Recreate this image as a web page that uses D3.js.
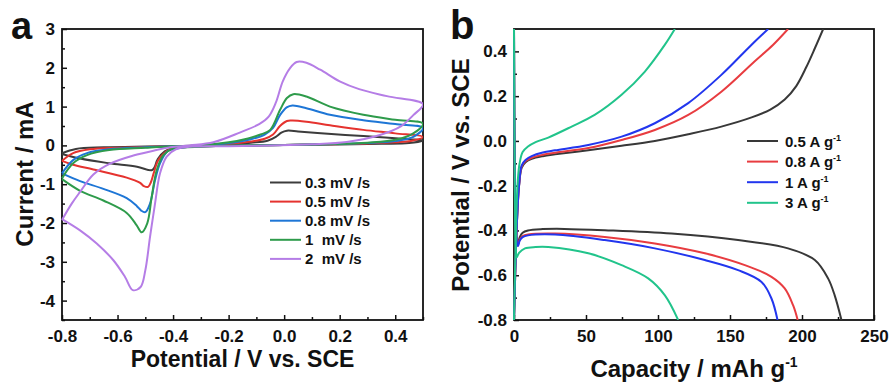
<!DOCTYPE html>
<html>
<head>
<meta charset="utf-8">
<script src="https://cdn.jsdelivr.net/npm/d3@7"></script>
<style>
body { margin: 0; background: #fff; }
svg text { font-family: "Liberation Sans", Arial, sans-serif; font-weight: bold; fill: #111; }
</style>
</head>
<body>
<div id="chart"></div>
<script>
// ---- panel a : CV loops, [potential V, current mA], forward sweep then reverse ----
var scanRates = ["0.3 mV /s", "0.5 mV /s", "0.8 mV /s", "1  mV /s", "2  mV /s"];
var cvColors = ["#3c3c3c", "#e5332f", "#1e76d6", "#2e9b4b", "#b57de6"];

var cv03 = [[-0.8,-0.20],[-0.75,-0.09],[-0.65,-0.05],[-0.5,-0.03],[-0.4,-0.02],[-0.3,0.0],[-0.2,0.03],[-0.12,0.07],[-0.06,0.12],[-0.03,0.22],[-0.01,0.33],[0.01,0.38],[0.05,0.36],[0.12,0.32],[0.22,0.27],[0.35,0.21],[0.45,0.16],[0.5,0.13],
  [0.45,0.06],[0.35,0.04],[0.2,0.02],[0.0,0.01],[-0.2,-0.01],[-0.35,-0.03],[-0.4,-0.07],[-0.43,-0.15],[-0.455,-0.35],[-0.468,-0.58],[-0.477,-0.64],[-0.53,-0.55],[-0.63,-0.46],[-0.735,-0.34],[-0.8,-0.22]];
var cv05 = [[-0.8,-0.40],[-0.76,-0.2],[-0.7,-0.1],[-0.6,-0.06],[-0.5,-0.04],[-0.4,-0.02],[-0.3,0.0],[-0.2,0.04],[-0.12,0.1],[-0.07,0.17],[-0.04,0.28],[-0.015,0.5],[0.01,0.63],[0.03,0.64],[0.08,0.61],[0.165,0.52],[0.285,0.40],[0.4,0.31],[0.5,0.22],
  [0.46,0.12],[0.4,0.08],[0.3,0.05],[0.15,0.03],[0.0,0.01],[-0.2,-0.01],[-0.35,-0.04],[-0.41,-0.1],[-0.435,-0.22],[-0.455,-0.40],[-0.47,-0.72],[-0.48,-0.95],[-0.49,-1.07],[-0.505,-1.05],[-0.52,-0.96],[-0.567,-0.83],[-0.687,-0.62],[-0.76,-0.5],[-0.8,-0.40]];
var cv08 = [[-0.8,-0.72],[-0.76,-0.38],[-0.71,-0.2],[-0.63,-0.1],[-0.5,-0.05],[-0.4,-0.02],[-0.3,0.0],[-0.2,0.06],[-0.12,0.16],[-0.07,0.28],[-0.04,0.45],[-0.015,0.78],[0.009,0.98],[0.03,1.03],[0.08,0.96],[0.165,0.79],[0.285,0.65],[0.4,0.55],[0.5,0.45],
  [0.465,0.22],[0.4,0.11],[0.3,0.06],[0.15,0.03],[0.0,0.01],[-0.2,-0.01],[-0.35,-0.04],[-0.4,-0.1],[-0.42,-0.15],[-0.447,-0.46],[-0.465,-0.9],[-0.483,-1.5],[-0.5,-1.72],[-0.515,-1.68],[-0.531,-1.56],[-0.567,-1.36],[-0.651,-1.12],[-0.735,-0.92],[-0.8,-0.72]];
var cv1 = [[-0.8,-0.85],[-0.76,-0.46],[-0.71,-0.25],[-0.63,-0.12],[-0.5,-0.06],[-0.4,-0.02],[-0.3,0.0],[-0.2,0.08],[-0.13,0.18],[-0.085,0.28],[-0.05,0.4],[-0.015,0.91],[0.01,1.22],[0.033,1.32],[0.08,1.26],[0.165,1.0],[0.285,0.79],[0.4,0.66],[0.5,0.56],
  [0.465,0.31],[0.405,0.15],[0.3,0.07],[0.15,0.03],[0.0,0.01],[-0.2,-0.01],[-0.35,-0.05],[-0.4,-0.08],[-0.435,-0.25],[-0.459,-0.64],[-0.477,-1.33],[-0.493,-2.01],[-0.513,-2.24],[-0.531,-2.06],[-0.567,-1.74],[-0.651,-1.42],[-0.735,-1.17],[-0.8,-0.87]];
var cv2 = [[-0.8,-1.92],[-0.765,-1.5],[-0.735,-1.2],[-0.687,-0.75],[-0.627,-0.47],[-0.543,-0.26],[-0.46,-0.12],[-0.41,-0.05],[-0.34,0.0],[-0.255,0.08],[-0.16,0.33],[-0.09,0.55],[-0.055,0.75],[-0.03,1.1],[-0.005,1.65],[0.02,1.98],[0.045,2.15],[0.08,2.13],[0.13,1.95],[0.2,1.65],[0.27,1.45],[0.37,1.27],[0.5,1.06],
  [0.465,0.78],[0.42,0.49],[0.345,0.27],[0.225,0.09],[0.1,0.03],[-0.05,0.0],[-0.2,-0.02],[-0.33,-0.03],[-0.39,-0.10],[-0.423,-0.29],[-0.447,-0.72],[-0.465,-1.5],[-0.483,-2.36],[-0.5,-3.22],[-0.517,-3.65],[-0.545,-3.73],[-0.573,-3.39],[-0.615,-2.96],[-0.675,-2.53],[-0.735,-2.19],[-0.8,-1.9]];

var cvTicksX = [-0.8, -0.6, -0.4, -0.2, 0, 0.2, 0.4];
var cvTicksY = [-4, -3, -2, -1, 0, 1, 2, 3];

// ---- panel b : charge / discharge, [capacity mAh/g, potential V] ----
var currentRates = ["0.5 A g", "0.8 A g", "1 A g", "3 A g"];
var gcdColors = ["#383838", "#e83c40", "#2236ee", "#21c48b"];

var charge05 = [[0,-0.8],[1.5,-0.45],[2.5,-0.3],[3.5,-0.2],[5.3,-0.12],[8,-0.095],[12.3,-0.08],[20,-0.068],[28.5,-0.06],[51.6,-0.042],[74.7,-0.022],[97.8,0.0],[121,0.03],[144,0.064],[165,0.105],[178,0.14],[188,0.185],[196,0.245],[203,0.33],[209,0.415],[214.7,0.5]];
var charge08 = [[0,-0.8],[1.5,-0.45],[2.5,-0.3],[3.5,-0.2],[5.3,-0.115],[8,-0.09],[12.3,-0.075],[20,-0.062],[28.5,-0.053],[51.6,-0.032],[74.7,0.004],[97.8,0.049],[121,0.116],[144,0.22],[167,0.355],[180,0.43],[190.3,0.5]];
var charge1 = [[0,-0.8],[1.5,-0.45],[2.5,-0.3],[3.5,-0.2],[5.3,-0.11],[8,-0.085],[12.3,-0.068],[20,-0.052],[28.5,-0.042],[51.6,-0.018],[74.7,0.019],[97.8,0.079],[121,0.169],[144,0.295],[165,0.43],[176.5,0.5]];
var charge3 = [[0,-0.8],[1,-0.5],[1.8,-0.3],[2.6,-0.18],[3.9,-0.1],[6,-0.05],[9.7,-0.025],[15,-0.005],[23.8,0.015],[40,0.064],[56,0.116],[74.7,0.206],[90.9,0.31],[104.8,0.43],[111.7,0.5]];

var discharge05 = [[0,0.5],[0.6,-0.2],[1.5,-0.42],[2.5,-0.465],[4,-0.43],[6,-0.41],[9.7,-0.40],[20,-0.394],[35,-0.393],[63,-0.399],[109.4,-0.414],[155.6,-0.443],[190.3,-0.48],[208.9,-0.532],[218.1,-0.614],[222.7,-0.69],[227.4,-0.8]];
var discharge08 = [[0,0.5],[0.6,-0.2],[1.5,-0.43],[2.6,-0.468],[4,-0.44],[6,-0.425],[9.7,-0.418],[28.5,-0.414],[63,-0.429],[97.8,-0.458],[132.5,-0.502],[160.3,-0.555],[178.8,-0.607],[188,-0.659],[193.8,-0.734],[197,-0.8]];
var discharge1 = [[0,0.5],[0.6,-0.2],[1.5,-0.43],[2.8,-0.47],[4,-0.445],[6,-0.43],[9.7,-0.422],[28.5,-0.418],[63,-0.443],[97.8,-0.48],[132.5,-0.532],[155.6,-0.577],[171.9,-0.63],[178.8,-0.704],[183,-0.8]];
var discharge3 = [[0,0.5],[0.6,-0.25],[1.2,-0.48],[1.9,-0.52],[3.5,-0.5],[7.6,-0.48],[15,-0.474],[23.8,-0.474],[51.6,-0.502],[74.7,-0.555],[93.2,-0.614],[104.8,-0.69],[114,-0.8]];

var gcdTicksX = [0, 50, 100, 150, 200, 250];
var gcdTicksY = [-0.8, -0.6, -0.4, -0.2, 0, 0.2, 0.4];

var svg = d3.select("#chart").append("svg")
	.attr("width", 893)
	.attr("height", 387);

var plotH = 291;

function styleAxis(g, size) {
	g.select(".domain").remove();
	g.attr("font-size", size).attr("font-family", null);
	g.selectAll("line").attr("stroke", "#111").attr("stroke-width", 1.5);
}

function drawAxes(g, x, y, w, xTicks, yTicks, xMinor, yMinor, xFmt, yFmt) {
	g.append("g").attr("transform", "translate(0," + plotH + ")")
		.call(d3.axisBottom(x).tickValues(xMinor).tickSize(-3).tickFormat(""))
		.call(styleAxis, 17);
	g.append("g").attr("transform", "translate(0," + plotH + ")")
		.call(d3.axisBottom(x).tickValues(xTicks).tickSize(-5).tickPadding(10).tickFormat(xFmt))
		.call(styleAxis, 17);
	g.append("g")
		.call(d3.axisLeft(y).tickValues(yMinor).tickSize(-3).tickFormat(""))
		.call(styleAxis, 17);
	g.append("g")
		.call(d3.axisLeft(y).tickValues(yTicks).tickSize(-5).tickPadding(7).tickFormat(yFmt))
		.call(styleAxis, 17);

	g.append("rect")
		.attr("width", w).attr("height", plotH)
		.attr("fill", "none").attr("stroke", "#111").attr("stroke-width", 1.8);
}

// ================= panel a =================
var aW = 361;
var ga = svg.append("g").attr("transform", "translate(62,29)");
var xA = d3.scaleLinear().domain([-0.8, 0.5]).range([0, aW]);
var yA = d3.scaleLinear().domain([-4.5, 3]).range([plotH, 0]);

drawAxes(ga, xA, yA, aW, cvTicksX, cvTicksY,
	d3.range(-0.7, 0.55, 0.2), d3.range(-4.5, 3, 1),
	function(d) { return d.toFixed(1); }, function(d) { return d; });

ga.append("clipPath").attr("id", "clipA")
	.append("rect").attr("x", -1).attr("width", aW + 1).attr("height", plotH);

var lineA = d3.line()
	.x(function(d) { return xA(d[0]); })
	.y(function(d) { return yA(d[1]); })
	.curve(d3.curveCatmullRom.alpha(0.5));

ga.append("g").attr("clip-path", "url(#clipA)")
	.selectAll("path")
	.data([cv03, cv05, cv08, cv1, cv2])
	.enter()
	.append("path")
	.attr("d", lineA)
	.attr("fill", "none")
	.attr("stroke", function(d, i) { return cvColors[i]; })
	.attr("stroke-width", 2);

var legA = svg.append("g").attr("transform", "translate(270,182.5)");
legA.selectAll("line")
	.data(scanRates).enter().append("line")
	.attr("x1", 0).attr("x2", 31)
	.attr("y1", function(d, i) { return i * 19.1; })
	.attr("y2", function(d, i) { return i * 19.1; })
	.attr("stroke", function(d, i) { return cvColors[i]; })
	.attr("stroke-width", 2);
legA.selectAll("text")
	.data(scanRates).enter().append("text")
	.attr("x", 35)
	.attr("y", function(d, i) { return i * 19.1 + 5.5; })
	.attr("font-size", 15)
	.style("white-space", "pre")
	.text(function(d) { return d; });

svg.append("text").attr("x", 242.5).attr("y", 367)
	.attr("text-anchor", "middle").attr("font-size", 23)
	.text("Potential / V vs. SCE");
svg.append("text").attr("transform", "translate(33,174) rotate(-90)")
	.attr("text-anchor", "middle").attr("font-size", 24)
	.text("Current / mA");
svg.append("text").attr("x", 11).attr("y", 39).attr("font-size", 38).text("a");

// ================= panel b =================
var bW = 360;
var gb = svg.append("g").attr("transform", "translate(514,29)");
var xB = d3.scaleLinear().domain([0, 250]).range([0, bW]);
var yB = d3.scaleLinear().domain([-0.8, 0.5]).range([plotH, 0]);

drawAxes(gb, xB, yB, bW, gcdTicksX, gcdTicksY,
	d3.range(25, 250, 50), d3.range(-0.7, 0.5, 0.2),
	function(d) { return d; }, function(d) { return d.toFixed(1); });

gb.append("clipPath").attr("id", "clipB")
	.append("rect").attr("x", -2).attr("width", bW + 2).attr("height", plotH);

var lineB = d3.line()
	.x(function(d) { return xB(d[0]); })
	.y(function(d) { return yB(d[1]); })
	.curve(d3.curveCatmullRom.alpha(0.5));

var gcdCurves = [
	{ c: 0, pts: charge05 }, { c: 0, pts: discharge05 },
	{ c: 1, pts: charge08 }, { c: 1, pts: discharge08 },
	{ c: 2, pts: charge1 }, { c: 2, pts: discharge1 },
	{ c: 3, pts: charge3 }, { c: 3, pts: discharge3 }
];

gb.append("g").attr("clip-path", "url(#clipB)")
	.selectAll("path")
	.data(gcdCurves)
	.enter()
	.append("path")
	.attr("d", function(d) { return lineB(d.pts); })
	.attr("fill", "none")
	.attr("stroke", function(d) { return gcdColors[d.c]; })
	.attr("stroke-width", 2);

var legB = svg.append("g").attr("transform", "translate(747,141)");
legB.selectAll("line")
	.data(currentRates).enter().append("line")
	.attr("x1", 0).attr("x2", 31)
	.attr("y1", function(d, i) { return i * 20.6; })
	.attr("y2", function(d, i) { return i * 20.6; })
	.attr("stroke", function(d, i) { return gcdColors[i]; })
	.attr("stroke-width", 2);
var legBText = legB.selectAll("text")
	.data(currentRates).enter().append("text")
	.attr("x", 38)
	.attr("y", function(d, i) { return i * 20.6 + 5.5; })
	.attr("font-size", 15);
legBText.append("tspan").text(function(d) { return d; });
legBText.append("tspan").attr("font-size", 9).attr("dy", -6).text("-1");

var xTitleB = svg.append("text").attr("x", 694).attr("y", 377)
	.attr("text-anchor", "middle").attr("font-size", 24);
xTitleB.append("tspan").text("Capacity / mAh g");
xTitleB.append("tspan").attr("font-size", 14).attr("dy", -10).text("-1");

svg.append("text").attr("transform", "translate(469,175) rotate(-90)")
	.attr("text-anchor", "middle").attr("font-size", 24)
	.text("Potential / V vs. SCE");
svg.append("text").attr("x", 450).attr("y", 39).attr("font-size", 40).text("b");
</script>
</body>
</html>
